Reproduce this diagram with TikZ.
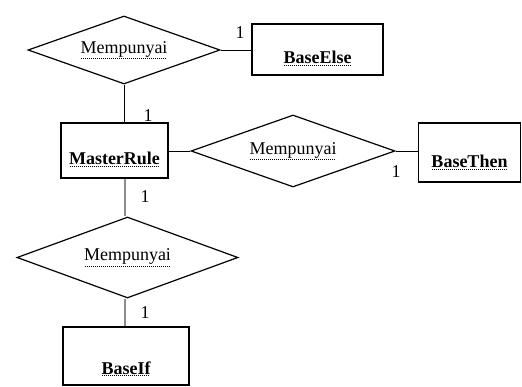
\documentclass[tikz,border=0pt]{standalone}
\usepackage{fontspec}
\setmainfont{Liberation Serif}
\usepackage{tikz}
\usetikzlibrary{positioning,shapes.geometric}

\newsavebox{\kotakteks}
\newcommand{\titikbawah}[1]{\sbox{\kotakteks}{#1}%
  \vtop{\offinterlineskip\copy\kotakteks\kern1.2pt
    \hbox to\wd\kotakteks{\leaders\hbox to 2pt{\hss\rule{1pt}{0.8pt}\hss}\hfill}}}

\begin{document}
\begin{tikzpicture}[
    x=1pt, y=-1pt,
    every node/.style={font=\fontsize{18}{21}\selectfont, inner sep=0pt},
    relasi/.style={draw, diamond, line width=1.2pt, aspect=2.8},
    entitas/.style={draw, rectangle, line width=1.6pt, font=\fontsize{18}{21}\selectfont\bfseries},
    garis/.style={draw, line width=0.9pt},
    garistebal/.style={draw=black!45, line width=2.6pt},
    kardinal/.style={font=\fontsize{18}{21}\selectfont},
]
\useasboundingbox (0,0) rectangle (522,387);

% relasi
\node[relasi, minimum width=192pt, minimum height=68pt] (relElse) at (124,50) {\titikbawah{Mempunyai}};
\node[relasi, minimum width=204pt, minimum height=72pt] (relThen) at (293,151) {\titikbawah{Mempunyai}};
\node[relasi, minimum width=221pt, minimum height=81pt] (relIf) at (127.5,257.5) {\titikbawah{Mempunyai}};

% entitas
\node[entitas, minimum width=107pt, text height=42pt, text depth=13pt] (master) at (114.5,150.5) {\titikbawah{MasterRule}};
\node[entitas, minimum width=131pt, text height=40pt, text depth=11pt] (baseElse) at (317.5,49.5) {\titikbawah{BaseElse}};
\node[entitas, minimum width=102pt, text height=45pt, text depth=14pt] (baseThen) at (469.5,152.5) {\titikbawah{BaseThen}};
\node[entitas, minimum width=126pt, text height=47pt, text depth=11pt] (baseIf) at (126,356) {\titikbawah{BaseIf}};

% garis
\draw[garis] (relElse.east) -- (relElse.east -| baseElse.west);
\draw[garis] (relElse.south) -- (relElse.south |- master.north);
\draw[garis] (master.east |- relThen.west) -- (relThen.west);
\draw[garis] (relThen.east) -- (relThen.east -| baseThen.west);
\draw[garistebal] (master.south -| 125,0) -- (relIf.north -| 125,0);
\draw[garistebal] (relIf.south -| 125,0) -- (baseIf.north -| 125,0);

% kardinalitas
\node[kardinal] (k1) at (240,33) {1};
\node[kardinal] (k2) at (148,116) {1};
\node[kardinal] (k3) at (396,172) {1};
\node[kardinal] (k4) at (145,197) {1};
\node[kardinal] (k5) at (145,313) {1};
\end{tikzpicture}
\end{document}
